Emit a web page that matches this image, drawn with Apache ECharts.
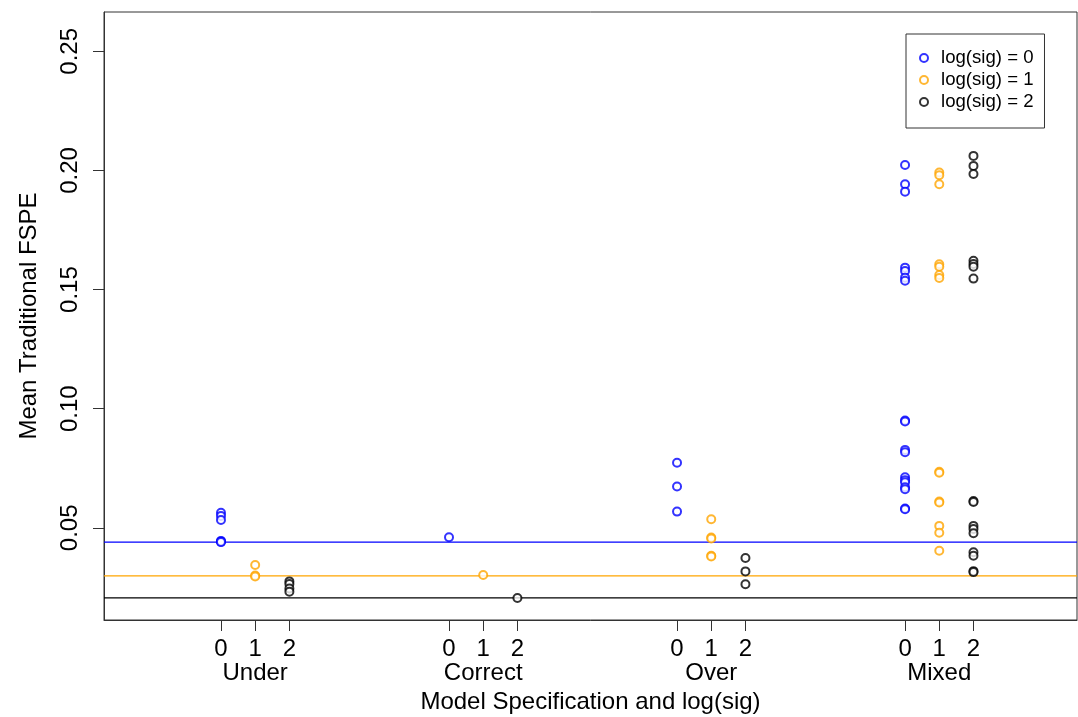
<!DOCTYPE html>
<html>
<head>
<meta charset="utf-8">
<script src="https://cdn.jsdelivr.net/npm/echarts@6/dist/echarts.min.js"></script>
<style>
  html, body { margin: 0; padding: 0; background: #fff; }
  #chart { width: 1078px; height: 717px; }
</style>
</head>
<body>
<div id="chart"></div>
<script>
// Model specifications along the x axis, each with three log(sig) levels
const groups = ['Under', 'Correct', 'Over', 'Mixed'];
const sigLevels = [0, 1, 2];
const sigNames = ['log(sig) = 0', 'log(sig) = 1', 'log(sig) = 2'];
const sigColors = ['#0000ff', '#ffa500', '#000000'];

// Mean traditional FSPE values, one list per specification (Under, Correct, Over, Mixed)
const sig0Values = [
  [0.0563, 0.0550, 0.0533, 0.0445, 0.0442, 0.0440],
  [0.0460],
  [0.0773, 0.0673, 0.0568],
  [0.2023, 0.1942, 0.1911, 0.1592, 0.1578, 0.1550, 0.1537, 0.0950, 0.0946,
   0.0827, 0.0817, 0.0712, 0.0700, 0.0691, 0.0670, 0.0662, 0.0581, 0.0578]
];
const sig1Values = [
  [0.0344, 0.0300, 0.0296],
  [0.0302],
  [0.0536, 0.0459, 0.0455, 0.0383, 0.0380],
  [0.1991, 0.1980, 0.1942, 0.1606, 0.1596, 0.1561, 0.1549, 0.0735, 0.0731,
   0.0610, 0.0606, 0.0508, 0.0479, 0.0404]
];
const sig2Values = [
  [0.0275, 0.0264, 0.0245, 0.0232],
  [0.0205],
  [0.0373, 0.0317, 0.0263],
  [0.2061, 0.2019, 0.1985, 0.1621, 0.1607, 0.1596, 0.1546, 0.0612, 0.0608,
   0.0508, 0.0495, 0.0477, 0.0397, 0.0383, 0.0318, 0.0314]
];
const valuesBySig = [sig0Values, sig1Values, sig2Values];

// Horizontal reference levels, one per log(sig)
const referenceLevels = [0.0440, 0.0298, 0.0206];

// Y axis tick values
const yTicks = [0.05, 0.10, 0.15, 0.20, 0.25];

// x axis range and spacing of sig levels inside a group
const xMin = 0.487;
const xMax = 4.754;
const sigStep = 0.15;
function xPos(g, s) { return g + 1 + s * sigStep; }

// sig-level ticks and the group-name positions (under the middle level)
const xTicks = [];
const xTickText = [];
const groupCenters = [];
groups.forEach(function (name, g) {
  sigLevels.forEach(function (s) {
    xTicks.push(xPos(g, s));
    xTickText.push(String(s));
  });
  groupCenters.push(xPos(g, 1));
});

function lookup(positions, texts, v) {
  for (let i = 0; i < positions.length; i++) {
    if (Math.abs(positions[i] - v) < 1e-6) return texts[i];
  }
  return '';
}

const FONT = '"Liberation Sans", Arial, sans-serif';

const series = [];
// reference lines across the whole plot
sigLevels.forEach(function (s) {
  series.push({
    name: 'ref ' + s,
    type: 'line',
    data: [[xMin, referenceLevels[s]], [xMax, referenceLevels[s]]],
    symbol: 'none',
    silent: true,
    lineStyle: { color: sigColors[s], width: 1.2 },
    z: 2
  });
});
// the points
sigLevels.forEach(function (s) {
  const data = [];
  valuesBySig[s].forEach(function (vals, g) {
    vals.forEach(function (v) { data.push([xPos(g, s), v]); });
  });
  series.push({
    name: sigNames[s],
    type: 'scatter',
    symbol: 'emptyCircle',
    symbolSize: 8,
    data: data,
    itemStyle: { color: sigColors[s], borderColor: sigColors[s], borderWidth: 1.1 },
    z: 3
  });
});

const axisFont = { fontFamily: FONT, fontSize: 24, color: '#000' };

const chart = echarts.init(document.getElementById('chart'), null, { renderer: 'canvas' });
chart.setOption({
  animation: false,
  backgroundColor: '#ffffff',
  textStyle: { fontFamily: FONT },
  grid: {
    left: 104, right: 1, top: 12, bottom: 97,
    outerBoundsMode: 'none',
    containLabel: false,
    show: true, borderColor: '#333', borderWidth: 1, backgroundColor: 'transparent'
  },
  legend: {
    orient: 'vertical',
    left: 906, top: 34,
    padding: [13, 11, 15, 13],
    itemGap: 0,
    itemWidth: 8,
    itemHeight: 8,
    borderColor: '#333',
    borderWidth: 1,
    backgroundColor: '#fff',
    textStyle: { fontFamily: FONT, fontSize: 18.6, color: '#000', lineHeight: 22, padding: [0, 0, 0, 8] },
    data: sigNames
  },
  xAxis: [{
    type: 'value',
    position: 'bottom',
    min: xMin, max: xMax,
    name: 'Model Specification and log(sig)',
    nameLocation: 'middle',
    nameGap: 70,
    nameTextStyle: Object.assign({ verticalAlign: 'top' }, axisFont),
    axisLine: { onZero: false, lineStyle: { color: '#333', width: 1 } },
    axisTick: { show: true, length: 11, customValues: xTicks, lineStyle: { color: '#333' } },
    axisLabel: Object.assign({
      customValues: xTicks,
      formatter: function (v) { return lookup(xTicks, xTickText, v); },
      showMinLabel: true,
      showMaxLabel: true,
      hideOverlap: false,
      margin: 17
    }, axisFont),
    splitLine: { show: false }
  }, {
    // group names, on a second bottom axis sharing the same scale
    type: 'value',
    position: 'bottom',
    offset: 0,
    min: xMin, max: xMax,
    axisLine: { show: false, onZero: false },
    axisTick: { show: false },
    axisLabel: Object.assign({
      customValues: groupCenters,
      formatter: function (v) { return lookup(groupCenters, groups, v); },
      showMinLabel: true,
      showMaxLabel: true,
      hideOverlap: false,
      margin: 41
    }, axisFont),
    splitLine: { show: false }
  }],
  yAxis: {
    type: 'value',
    min: 0.0113, max: 0.2665,
    name: 'Mean Traditional FSPE',
    nameLocation: 'middle',
    nameGap: 63,
    nameTextStyle: axisFont,
    axisLine: { show: true, lineStyle: { color: '#333', width: 1 } },
    axisTick: { show: true, length: 11, customValues: yTicks, lineStyle: { color: '#333' } },
    axisLabel: Object.assign({
      customValues: yTicks,
      rotate: 90,
      margin: 22,
      showMinLabel: true,
      showMaxLabel: true,
      formatter: function (v) { return v.toFixed(2); }
    }, axisFont),
    splitLine: { show: false }
  },
  series: series
});
</script>
</body>
</html>
